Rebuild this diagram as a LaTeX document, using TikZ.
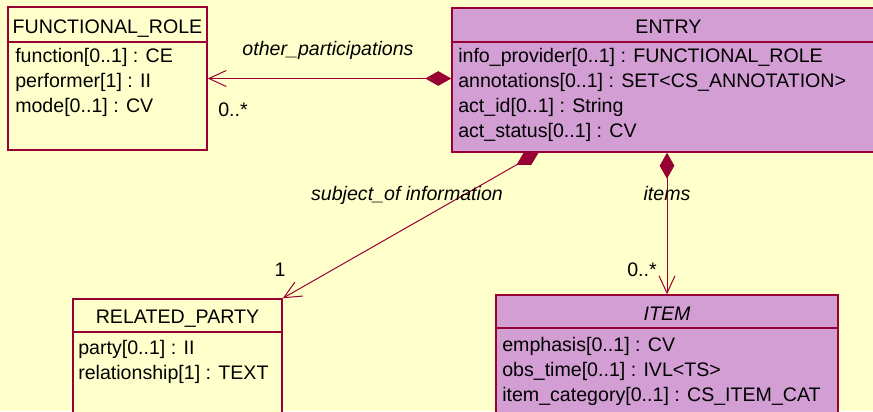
\documentclass[tikz,border=0pt]{standalone}
\usepackage{fontspec}
\setmainfont{Liberation Sans}
\usepackage{tikz}
\usetikzlibrary{arrows.meta,shapes.geometric,fit,calc}

\definecolor{umlred}{RGB}{153,0,51}
\definecolor{umlpaper}{RGB}{255,255,204}
\definecolor{umlpurple}{RGB}{210,158,212}

\tikzset{
    classbox/.style={draw=umlred, line width=1.1pt, inner sep=0pt, fill=#1},
    divider/.style={draw=umlred, line width=0.9pt},
    attr/.style={anchor=base west, inner sep=0pt, font=\fontsize{14.7}{18}\selectfont},
    ctitle/.style={anchor=base, inner sep=0pt, font=\fontsize{14.7}{18}\selectfont},
    rolelbl/.style={anchor=base, inner sep=0pt, font=\fontsize{14.7}{18}\selectfont\itshape},
    assoc/.style={draw=umlred, line width=0.75pt,
        {Diamond[length=19.5pt,width=11pt,fill=umlred]}-{Straight Barb[length=13pt,width=12pt]}}
}

\begin{document}
\begin{tikzpicture}[x=0.75pt,y=0.75pt,yscale=-1,xscale=1]
        \useasboundingbox (0,0) rectangle (873,411);
        \fill[umlpaper] (0,0) rectangle (873,411);
        %Shape: Rectangle FUNCTIONAL_ROLE
        \node[classbox=umlpaper, fit={(8,7) (207,150)}] (role) {};
        \draw[divider] (role.west |- 0,42) -- (role.east |- 0,42);
        % Text Node
        \node[ctitle] (roleTitle) at (role.north |- 0,33) {FUNCTIONAL\_ROLE};
        \node[attr] (roleA) at (15,62) {function[0..1] : CE};
        \node[attr] (roleB) at (15,87) {performer[1] : II};
        \node[attr] (roleC) at (15,112) {mode[0..1] : CV};
        %Shape: Rectangle ENTRY
        \node[classbox=umlpurple, fit={(452,8) (885,152)}] (entry) {};
        \draw[divider] (entry.west |- 0,42) -- (entry.east |- 0,42);
        % Text Node
        \node[ctitle] (entryTitle) at (entry.north |- 0,33) {ENTRY};
        \node[attr] (entryA) at (458,62) {info\_provider[0..1] : FUNCTIONAL\_ROLE};
        \node[attr] (entryB) at (458,87) {annotations[0..1] : SET<CS\_ANNOTATION>};
        \node[attr] (entryC) at (458,112) {act\_id[0..1] : String};
        \node[attr] (entryD) at (458,137) {act\_status[0..1] : CV};
        %Shape: Rectangle RELATED_PARTY
        \node[classbox=umlpaper, fit={(73,299) (282,420)}] (related) {};
        \draw[divider] (related.west |- 0,332) -- (related.east |- 0,332);
        % Text Node
        \node[ctitle] (relatedTitle) at (related.north |- 0,323) {RELATED\_PARTY};
        \node[attr] (relatedA) at (78,354) {party[0..1] : II};
        \node[attr] (relatedB) at (78,379) {relationship[1] : TEXT};
        %Shape: Rectangle ITEM
        \node[classbox=umlpurple, fit={(496,295) (838,420)}] (item) {};
        \draw[divider] (item.west |- 0,328) -- (item.east |- 0,328);
        % Text Node
        \node[ctitle, font=\fontsize{14.7}{18}\selectfont\itshape] (itemTitle) at (item.north |- 0,320) {ITEM};
        \node[attr] (itemA) at (502,351) {emphasis[0..1] : CV};
        \node[attr] (itemB) at (502,376) {obs\_time[0..1] : IVL<TS>};
        \node[attr] (itemC) at (502,401) {item\_category[0..1] : CS\_ITEM\_CAT};
        %Straight Lines other_participations
        \draw[assoc] (role.east -| entry.west) -- (role.east);
        \node[rolelbl] (lblOther) at (328,55) {other\_participations};
        \node[ctitle] (lblOtherMult) at (233,116) {0..*};
        %Straight Lines subject_of information
        \coordinate (subjStart) at (539,152);
        \draw[assoc] (subjStart) -- (related.north east);
        \node[rolelbl] (lblSubject) at (407,200) {subject\_of information};
        \node[ctitle] (lblSubjectMult) at (280,276) {1};
        %Straight Lines items
        \draw[assoc] (item.north |- entry.south) -- (item.north);
        \node[rolelbl] (lblItems) at (667,200) {items};
        \node[ctitle] (lblItemsMult) at (642,276) {0..*};
\end{tikzpicture}
\end{document}
